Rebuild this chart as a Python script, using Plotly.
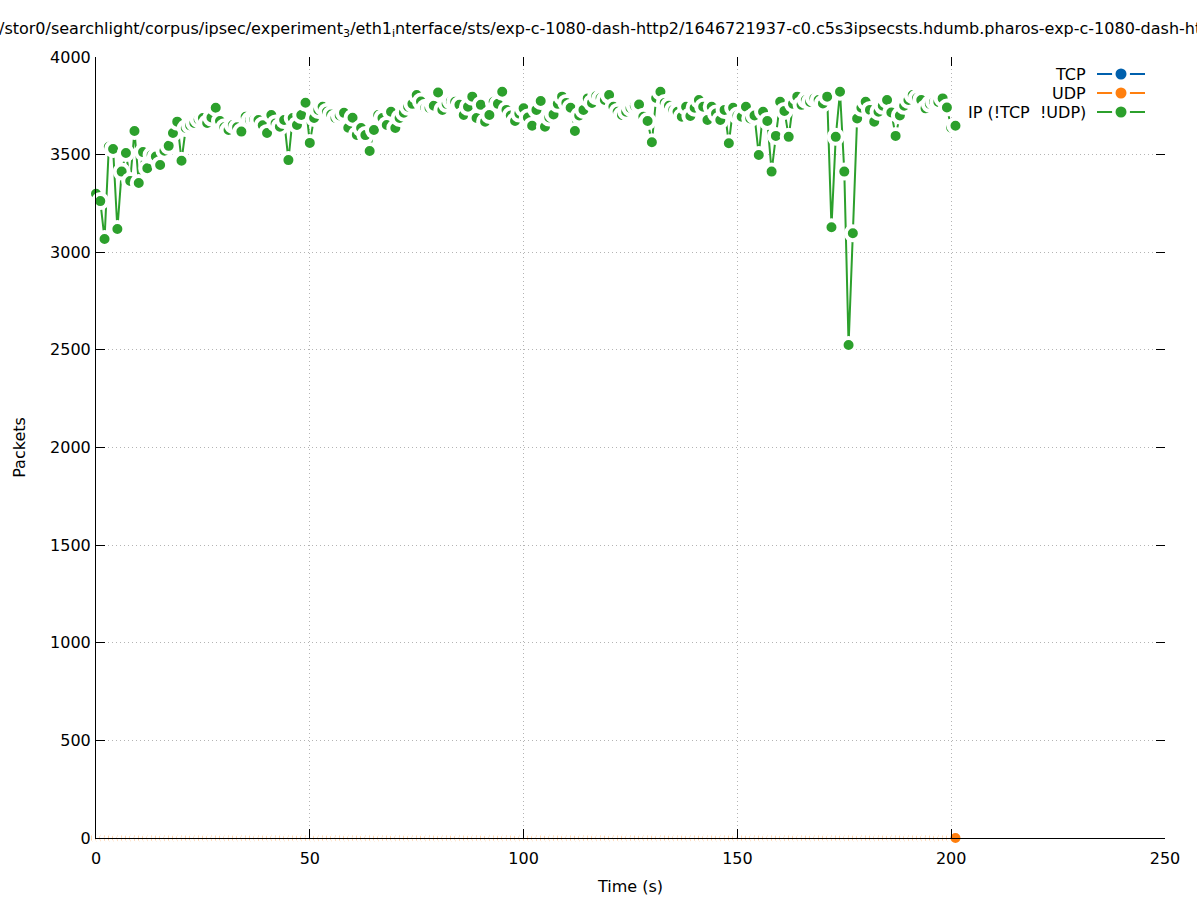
import plotly.graph_objects as go

# ---- data ----
time_s = list(range(0, 202))  # one sample per second, 0 .. 201 s

ip_other = [
    3300, 3262, 3068, 3540, 3529, 3119, 3413, 3508, 3365, 3621,
    3355, 3513, 3430, 3498, 3490, 3447, 3520, 3545, 3611, 3669,
    3469, 3636, 3650, 3662, 3680, 3688, 3662, 3690, 3740, 3672,
    3640, 3626, 3652, 3640, 3618, 3694, 3677, 3680, 3677, 3650,
    3611, 3703, 3660, 3643, 3677, 3472, 3688, 3652, 3703, 3766,
    3560, 3688, 3729, 3745, 3720, 3705, 3688, 3700, 3714, 3638,
    3689, 3601, 3636, 3600, 3519, 3626, 3703, 3688, 3652, 3720,
    3636, 3688, 3715, 3745, 3760, 3805, 3772, 3740, 3739, 3750,
    3818, 3729, 3760, 3775, 3771, 3755, 3703, 3745, 3797, 3688,
    3755, 3669, 3703, 3771, 3760, 3822, 3729, 3700, 3672, 3710,
    3737, 3690, 3648, 3729, 3775, 3643, 3690, 3706, 3760, 3797,
    3765, 3740, 3621, 3700, 3729, 3788, 3765, 3800, 3790, 3780,
    3805, 3745, 3720, 3703, 3720, 3739, 3750, 3757, 3694, 3672,
    3563, 3790, 3822, 3765, 3750, 3729, 3720, 3694, 3745, 3698,
    3740, 3780, 3745, 3677, 3745, 3710, 3677, 3729, 3558, 3740,
    3700, 3694, 3745, 3685, 3700, 3498, 3720, 3672, 3413, 3596,
    3771, 3724, 3591, 3760, 3797, 3755, 3780, 3770, 3788, 3780,
    3762, 3797, 3128, 3591, 3822, 3413, 2525, 3097, 3685, 3740,
    3771, 3729, 3669, 3720, 3750, 3780, 3716, 3596, 3700, 3750,
    3780, 3805, 3790, 3780, 3737, 3760, 3771, 3770, 3788, 3741,
    3638, 3648,
]
tcp = [0] * len(time_s)
udp = [0] * len(time_s)

series_names = ["TCP", "UDP", "IP (!TCP  !UDP)"]
series_colors = ["#0060ad", "#ff7f0e", "#2ca02c"]
series_values = [tcp, udp, ip_other]

x_ticks = [0, 50, 100, 150, 200, 250]
y_ticks = [0, 500, 1000, 1500, 2000, 2500, 3000, 3500, 4000]

title_text = ("/stor0/searchlight/corpus/ipsec/experiment<sub>3</sub>/eth1<sub>i</sub>nterface/sts/"
              "exp-c-1080-dash-http2/1646721937-c0.c5s3ipsecsts.hdumb.pharos-exp-c-1080-dash-ht")

FONT = "DejaVu Sans"

# plot area in pixels
L, R, T, B = 96, 1165, 57, 838
W, H = 1197, 900

fig = go.Figure()
for name, col, vals in zip(series_names, series_colors, series_values):
    fig.add_trace(go.Scatter(
        x=time_s, y=vals, name=name, mode="lines+markers",
        line=dict(color=col, width=2),
        marker=dict(color=col, size=14, line=dict(color="white", width=4)),
        cliponaxis=False, showlegend=False,
    ))

# dummy trace for mirrored tick axes
fig.add_trace(go.Scatter(x=[None], y=[None], xaxis="x2", yaxis="y2", showlegend=False,
                         hoverinfo="skip", mode="markers"))

axis_common = dict(ticks="inside", ticklen=9, tickwidth=1, tickcolor="black",
                   zeroline=False, automargin=False,
                   tickfont=dict(family=FONT, size=16, color="black"))

grid = dict(showgrid=True, gridcolor="#b4b4b4", griddash="1px,3px", gridwidth=1)

fig.update_layout(
    width=W, height=H,
    margin=dict(l=L, r=W - R, t=T, b=H - B, pad=0, autoexpand=False),
    paper_bgcolor="white", plot_bgcolor="white",
    font=dict(family=FONT, size=16, color="black"),
    xaxis=dict(range=[0, 250], tickvals=x_ticks, showline=True, linecolor="black", linewidth=1,
               ticklabelstandoff=6,
               title=dict(text="Time (s)", font=dict(family=FONT, size=16), standoff=13),
               **grid, **axis_common),
    yaxis=dict(range=[0, 4000], tickvals=y_ticks, showline=True, linecolor="black", linewidth=1,
               ticklabelstandoff=1,
               title=dict(text="Packets", font=dict(family=FONT, size=16), standoff=20),
               **grid, **axis_common),
    xaxis2=dict(range=[0, 250], tickvals=x_ticks, overlaying="x", side="top", anchor="y",
                showticklabels=False, showline=False, showgrid=False, **axis_common),
    yaxis2=dict(range=[0, 4000], tickvals=y_ticks, overlaying="y", side="right", anchor="x",
                showticklabels=False, showline=False, showgrid=False, **axis_common),
)

def px_x(p):
    return (p - L) / (R - L)

def px_y(p):
    return (B - p) / (B - T)

# title (wider than the canvas, clipped at both edges like the reference)
fig.add_annotation(text=title_text, xref="paper", yref="paper", x=px_x(600), y=px_y(29),
                   xanchor="center", yanchor="middle", showarrow=False,
                   font=dict(family=FONT, size=16, color="black"))

# gnuplot-style key: right-aligned labels, sample to the right
rows_y = [74, 93, 112]
for name, col, ry in zip(series_names, series_colors, rows_y):
    yp = px_y(ry)
    fig.add_annotation(text=name, xref="paper", yref="paper", x=px_x(1088), y=yp,
                       xanchor="right", yanchor="middle", showarrow=False,
                       font=dict(family=FONT, size=16, color="black"))
    fig.add_shape(type="line", xref="paper", yref="paper", x0=px_x(1097), x1=px_x(1145),
                  y0=yp, y1=yp, line=dict(color=col, width=2))
    fig.add_shape(type="circle", xref="paper", yref="paper", xsizemode="pixel", ysizemode="pixel",
                  xanchor=px_x(1121), yanchor=yp, x0=-9, x1=9, y0=-9, y1=9,
                  fillcolor="white", line=dict(width=0))
    fig.add_shape(type="circle", xref="paper", yref="paper", xsizemode="pixel", ysizemode="pixel",
                  xanchor=px_x(1121), yanchor=yp, x0=-5.5, x1=5.5, y0=-5.5, y1=5.5,
                  fillcolor=col, line=dict(width=0))

fig.write_html("out.html", config={"displayModeBar": False},
               post_script="document.body.style.margin='0';")
